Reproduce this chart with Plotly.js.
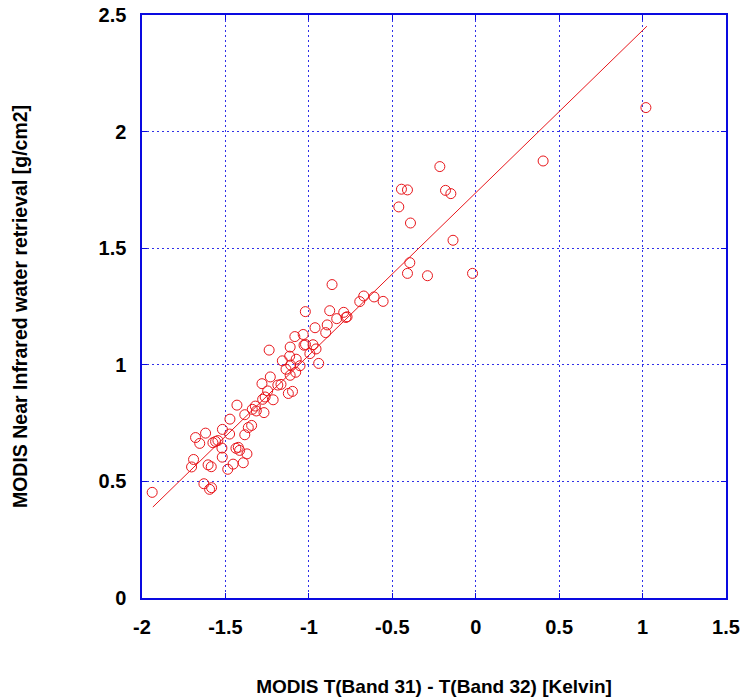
<!DOCTYPE html>
<html>
<head>
<meta charset="utf-8">
<script src="https://cdn.plot.ly/plotly-3.0.1.min.js"></script>
<style>html,body{margin:0;padding:0;background:#fff;}#chart{width:741px;height:698px;}</style>
</head>
<body>
<div id="chart"></div>
<script>
// Band difference (K) for each observation
const bandDiff = [
  -1.939, -1.629, -1.595, -1.583, -1.703, -1.691, -1.679, -1.654, -1.619, -1.604,
  -1.585, -1.575, -1.559, -1.545, -1.518, -1.521, -1.519, -1.473, -1.475, -1.486,
  -1.454, -1.437, -1.423, -1.415, -1.431, -1.384, -1.393, -1.371, -1.363, -1.343,
  -1.384, -1.339, -1.321, -1.315, -1.269, -1.277, -1.262, -1.247, -1.214, -1.281,
  -1.231, -1.186, -1.167, -1.123, -1.098,
  -1.238, -1.159, -1.137, -1.109, -1.053, -1.079, -1.112, -1.115, -1.076, -0.941,
  -0.994, -0.957, -0.975, -1.029, -1.020, -1.112, -1.084, -1.034, -0.963, -0.899,
  -0.890, -1.021, -0.861, -0.875, -0.791, -0.833, -0.778, -0.771, -0.695, -0.671,
  -0.609, -0.555,
  -0.395, -0.409, -0.289, -0.019, -0.136, -0.391, -0.461, -0.445, -0.409, -0.181,
  -0.149, -0.215, 0.404, 1.020
];
// Near-infrared water vapour retrieval (g/cm2)
const nirWater = [
  0.453, 0.490, 0.466, 0.473, 0.562, 0.594, 0.688, 0.663, 0.707, 0.571,
  0.563, 0.666, 0.671, 0.675, 0.723, 0.643, 0.604, 0.767, 0.703, 0.552,
  0.574, 0.642, 0.646, 0.633, 0.827, 0.700, 0.580, 0.618, 0.731, 0.740,
  0.786, 0.809, 0.823, 0.802, 0.795, 0.852, 0.862, 0.888, 0.850, 0.919,
  0.948, 0.913, 0.916, 0.877, 0.886,
  1.063, 1.017, 0.981, 0.999, 0.996, 0.968, 0.955, 1.037, 1.024, 1.006,
  1.048, 1.068, 1.086, 1.084, 1.087, 1.076, 1.121, 1.130, 1.159, 1.138,
  1.171, 1.228, 1.344, 1.232, 1.225, 1.198, 1.203, 1.206, 1.271, 1.295,
  1.291, 1.272,
  1.438, 1.392, 1.382, 1.392, 1.534, 1.608, 1.677, 1.753, 1.750, 1.748,
  1.734, 1.850, 1.874, 2.103
];
// Fitted regression line end points
const fitX = [-1.935, 1.026];
const fitY = [0.390, 2.452];

const xTicks = [-2, -1.5, -1, -0.5, 0, 0.5, 1, 1.5];
const xTickText = ['-2', '-1.5', '-1', '-0.5', '0', '0.5', '1', '1.5'];
const yTicks = [0, 0.5, 1, 1.5, 2, 2.5];
const yTickText = ['0', '0.5', '1', '1.5', '2', '2.5'];

const blue = '#0a0ae0';
const gridBlue = '#3030e8';
const red = '#e8161b';
const font = 'Liberation Sans, Arial, sans-serif';

const traces = [
  {
    x: bandDiff, y: nirWater, type: 'scatter', mode: 'markers',
    marker: {symbol: 'circle-open', size: 10, color: red, line: {width: 1, color: red}},
    hoverinfo: 'x+y'
  },
  {
    x: fitX, y: fitY, type: 'scatter', mode: 'lines',
    line: {color: red, width: 1}
  }
];

const axisCommon = {
  showline: true, linecolor: blue, linewidth: 1.6, mirror: 'ticks',
  ticks: 'inside', ticklen: 5, tickcolor: blue, tickwidth: 1,
  showgrid: true, gridcolor: gridBlue, griddash: '2px,3px', gridwidth: 1,
  zeroline: false, tickfont: {family: font, size: 20, color: '#000', weight: 'bold'},
  tickmode: 'array', automargin: false
};

const layout = {
  width: 741, height: 698,
  margin: {l: 142, r: 15, t: 15, b: 100},
  paper_bgcolor: '#fff', plot_bgcolor: '#fff',
  showlegend: false,
  xaxis: Object.assign({}, axisCommon, {
    range: [-2, 1.5], tickvals: xTicks, ticktext: xTickText, ticklabelstandoff: 10,
    title: {text: 'MODIS T(Band 31) - T(Band 32) [Kelvin]', font: {family: font, size: 19, color: '#000', weight: 'bold'}, standoff: 43}
  }),
  yaxis: Object.assign({}, axisCommon, {
    range: [0, 2.5], tickvals: yTicks, ticktext: yTickText, ticklabelstandoff: 10,
    title: {text: 'MODIS Near Infrared water retrieval [g/cm2]', font: {family: font, size: 19.5, color: '#000', weight: 'bold'}, standoff: 66}
  })
};

Plotly.newPlot('chart', traces, layout, {displayModeBar: false, staticPlot: true});
</script>
</body>
</html>
